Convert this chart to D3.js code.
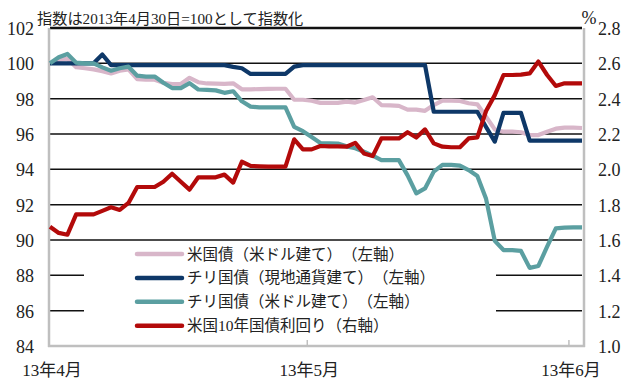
<!DOCTYPE html>
<html><head><meta charset="utf-8">
<script src="https://cdn.jsdelivr.net/npm/d3@7"></script>
<style>
html,body{margin:0;padding:0;background:#fff;}
svg{display:block;}
.num{font-family:"Liberation Serif","DejaVu Serif",serif;font-size:18px;fill:#222;}
.jp{font-family:"Liberation Serif","Noto Sans CJK JP","Noto Sans CJK SC",serif;fill:#222;text-spacing-trim:space-all;}
</style>
</head><body>
<svg id="c" width="640" height="384"></svg>
<script>
// ---- data ----
const title = "指数は2013年4月30日=100として指数化";
const seriesNames = ["米国債（米ドル建て）（左軸）","チリ国債（現地通貨建て）（左軸）","チリ国債（米ドル建て）（左軸）","米国10年国債利回り（右軸）"];
const xTickIdx = [0, 29.5, 59.5];
const xTickLabels = ["13年4月","13年5月","13年6月"];
const leftTicks = [84,86,88,90,92,94,96,98,100,102];
const rightTicks = [1.0,1.2,1.4,1.6,1.8,2.0,2.2,2.4,2.6,2.8];

const usBondUSD = [100,100.2,100.25,99.78,99.72,99.66,99.56,99.43,99.58,99.66,
  99.1,99.07,99.07,98.9,98.83,98.83,99.18,98.93,98.86,98.85,
  98.84,98.87,98.53,98.53,98.54,98.55,98.56,98.56,97.94,97.94,
  97.88,97.76,97.76,97.76,97.83,97.78,97.92,98.08,97.64,97.62,
  97.59,97.38,97.38,97.31,97.64,97.89,97.89,97.87,97.74,97.68,
  96.98,96.26,96.13,96.13,96.1,95.94,95.94,96.13,96.3,96.36,
  96.36,96.34];
const chileLocal = [100,100,100,100,100,100,100.5,99.9,99.9,99.9,
  99.9,99.9,99.9,99.9,99.9,99.9,99.9,99.9,99.9,99.9,
  99.9,99.8,99.72,99.4,99.4,99.4,99.4,99.4,99.81,99.9,
  99.9,99.9,99.9,99.9,99.9,99.9,99.9,99.9,99.9,99.9,
  99.9,99.9,99.9,99.9,97.26,97.26,97.26,97.26,97.26,97.26,
  96.4,95.57,97.2,97.2,97.2,95.63,95.63,95.63,95.63,95.63,
  95.63,95.63];
const chileUSD = [100,100.34,100.53,100.04,100,100,99.77,99.58,99.72,99.81,
  99.3,99.25,99.25,98.9,98.6,98.6,98.88,98.52,98.5,98.47,
  98.33,98.42,97.85,97.55,97.51,97.51,97.51,97.51,96.4,96.16,
  95.83,95.49,95.47,95.46,95.3,95.19,95.0,94.77,94.52,94.52,
  94.52,93.66,92.64,92.92,93.87,94.25,94.25,94.21,93.96,93.62,
  92.33,89.95,89.43,89.43,89.38,88.42,88.53,89.62,90.66,90.7,
  90.72,90.72];
const us10y = [1.675,1.64,1.63,1.745,1.745,1.745,1.765,1.785,1.77,1.81,
  1.90,1.90,1.90,1.93,1.975,1.93,1.885,1.955,1.955,1.955,
  1.97,1.925,2.043,2.019,2.017,2.015,2.015,2.015,2.17,2.113,
  2.113,2.132,2.13,2.13,2.128,2.15,2.09,2.075,2.175,2.175,
  2.175,2.21,2.18,2.226,2.147,2.128,2.125,2.125,2.175,2.181,
  2.33,2.42,2.534,2.534,2.536,2.543,2.61,2.534,2.472,2.487,
  2.487,2.487];

const colors = ["#D8B6C9","#0E3868","#5B9FA1","#B30A0A"];

// ---- chart ----
const svg = d3.select("#c");
const L = 50, R = 582, T = 28, B = 346;
const x = d3.scaleLinear().domain([0, usBondUSD.length - 1]).range([L, R]);
const yL = d3.scaleLinear().domain([84, 102]).range([B, T]);
const yR = d3.scaleLinear().domain([1.0, 2.8]).range([B, T]);

// gridlines
svg.append("g").selectAll("line").data(leftTicks).join("line")
  .attr("x1", L).attr("x2", R)
  .attr("y1", d => yL(d)).attr("y2", d => yL(d))
  .attr("stroke", "#111").attr("stroke-width", d => d === 102 ? 2.5 : 1.5);

// axes (gray)
const axG = svg.append("g").attr("stroke", "#BFBFBF").attr("stroke-width", 2.5);
axG.append("line").attr("x1", L - 1).attr("x2", L - 1).attr("y1", T).attr("y2", B + 1);
axG.append("line").attr("x1", R + 2).attr("x2", R + 2).attr("y1", T).attr("y2", B + 1);
axG.append("line").attr("x1", L - 2).attr("x2", R + 3).attr("y1", B).attr("y2", B);
axG.selectAll(".xt").data(xTickIdx.slice(1)).join("line")
  .attr("x1", d => x(d)).attr("x2", d => x(d)).attr("y1", B - 6).attr("y2", B)
  .attr("stroke-width", 1.5);

// legend background
svg.append("rect").attr("x", 84).attr("y", 243).attr("width", 412).attr("height", 96).attr("fill", "#fff");

// lines
const lineL = d3.line().x((d, i) => x(i)).y(d => yL(d));
const lineR = d3.line().x((d, i) => x(i)).y(d => yR(d));
const sets = [[usBondUSD, lineL], [chileLocal, lineL], [chileUSD, lineL], [us10y, lineR]];
sets.forEach(([data, gen], k) => {
  svg.append("path").attr("d", gen(data)).attr("fill", "none")
    .attr("stroke", colors[k]).attr("stroke-width", 4.2)
    .attr("stroke-linejoin", "round");
});

// left labels
svg.append("g").selectAll("text").data(leftTicks).join("text")
  .attr("class", "num").attr("x", 34).attr("y", d => yL(d) + 1)
  .attr("text-anchor", "end").attr("dominant-baseline", "central")
  .text(d => d);
// right labels
svg.append("g").selectAll("text").data(rightTicks).join("text")
  .attr("class", "num").attr("x", 598).attr("y", d => yR(d) + 1)
  .attr("text-anchor", "start").attr("dominant-baseline", "central")
  .text(d => d.toFixed(1));
svg.append("text").attr("class", "num").attr("x", 589).attr("y", 18)
  .attr("text-anchor", "middle").attr("dominant-baseline", "central").text("%");

// x labels
svg.append("g").selectAll("text").data(xTickIdx).join("text")
  .attr("class", "jp").attr("font-size", 17)
  .attr("x", d => x(d) + 2).attr("y", 370)
  .attr("text-anchor", "middle").attr("dominant-baseline", "central")
  .text((d, i) => xTickLabels[i]);

// title
svg.append("text").attr("class", "jp").attr("font-size", 15.2)
  .attr("x", 37).attr("y", 18).attr("dominant-baseline", "central").text(title);

// legend
const lg = svg.append("g");
seriesNames.forEach((name, k) => {
  const yy = 254 + k * 23.9;
  lg.append("line").attr("x1", 137).attr("x2", 182).attr("y1", yy).attr("y2", yy)
    .attr("stroke", colors[k]).attr("stroke-width", 4.5).attr("stroke-linecap", "round");
  lg.append("text").attr("class", "jp").attr("font-size", 15.5)
    .attr("x", 187).attr("y", yy).attr("dominant-baseline", "central").text(name);
});
</script>
</body></html>
